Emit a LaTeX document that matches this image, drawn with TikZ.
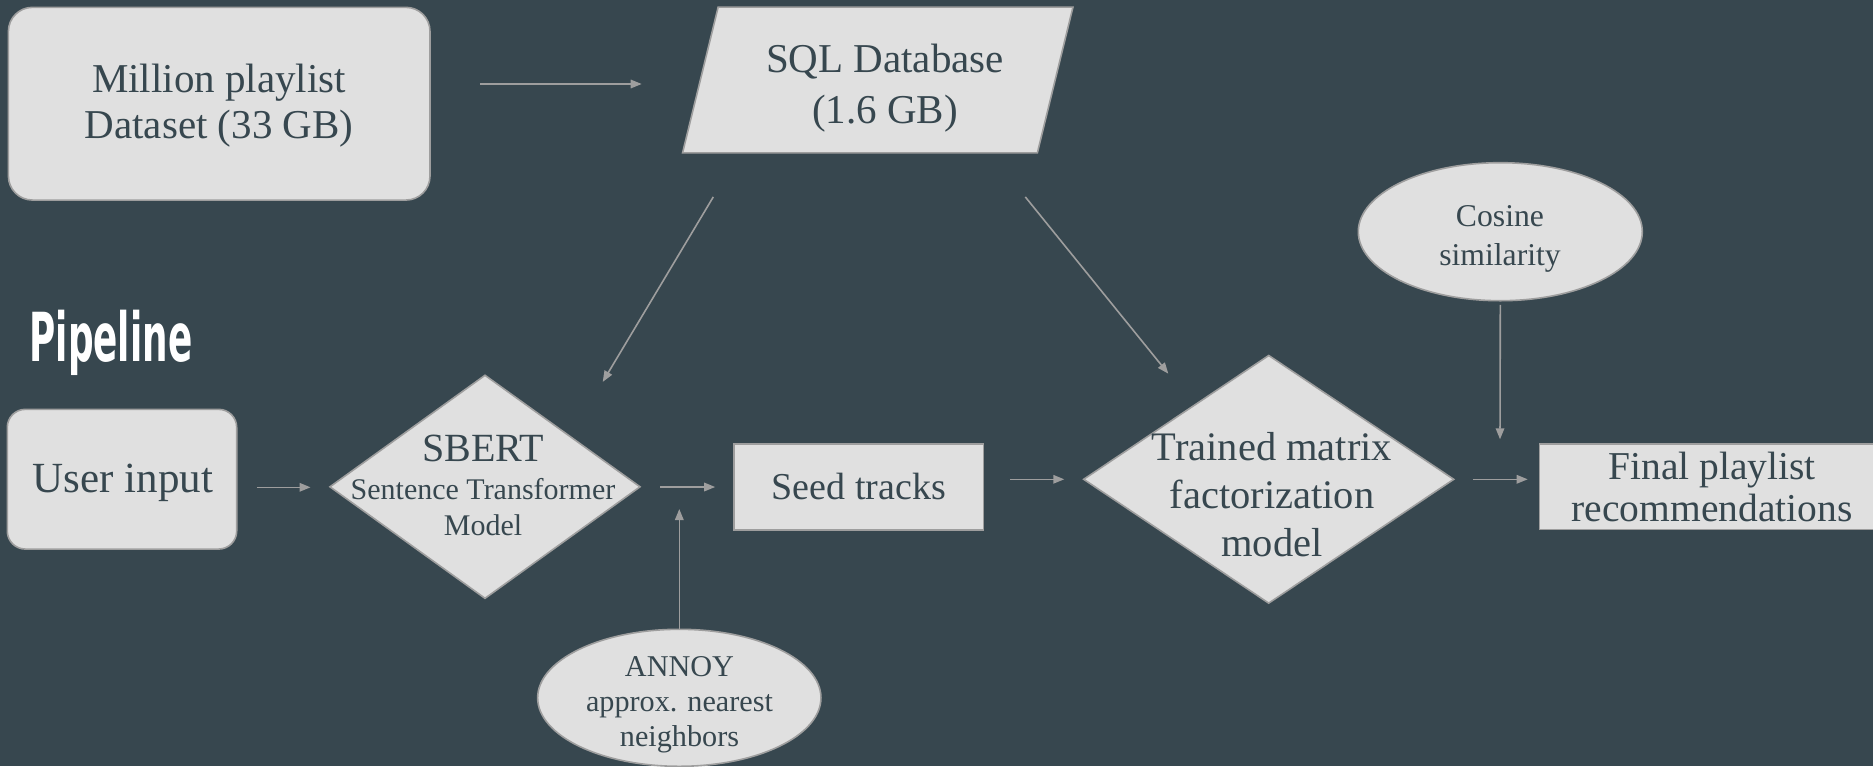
\documentclass[tikz,border=0pt]{standalone}
\usepackage{fontspec}
\setmainfont{Liberation Serif}
\newfontfamily\headfont{DejaVu Sans}
\usepackage{graphicx}
\usetikzlibrary{shapes.geometric,arrows.meta,calc}

\definecolor{bgslate}{HTML}{37474F}
\definecolor{boxfill}{HTML}{E0E0E0}
\definecolor{edgegray}{HTML}{9E9E9E}
\definecolor{inkslate}{HTML}{37474F}

% centred multi-line text whose reference point is the first baseline
\newcommand{\stack}[1]{\begin{tabular}[t]{@{}c@{}}#1\end{tabular}}
\newcommand{\fs}[2]{\fontsize{#1}{#2}\selectfont}

\begin{document}
\begin{tikzpicture}[x=1pt,y=-1pt,
  shapeline/.style={draw=edgegray, fill=boxfill, line width=1.6pt},
  blockbox/.style={shapeline, rectangle, inner sep=0pt},
  roundbox/.style={blockbox},
  decisionbox/.style={shapeline, diamond, inner sep=0pt},
  ovalbox/.style={shapeline, ellipse, inner sep=0pt},
  txt/.style={text=inkslate, inner sep=0pt, anchor=base},
  conn/.style={draw=edgegray, line width=1.6pt, -{Triangle[length=11pt,width=8.5pt]}}
]
\useasboundingbox (0,0) rectangle (1873,766);
\fill[bgslate] (0,0) rectangle (1873,766);
\clip (0,0) rectangle (1873,766);

% ---- shapes ----
\node[roundbox, rounded corners=24pt, minimum width=421.6pt, minimum height=192.7pt] (mpd) at (219.2,103.7) {};
\node[draw=none, minimum width=354.4pt, minimum height=145.4pt, inner sep=0pt] (sql) at (877.75,80) {};
\draw[shapeline] ([xshift=17.8pt]sql.north west) -- ([xshift=17.8pt]sql.north east)
  -- ([xshift=-17.8pt]sql.south east) -- ([xshift=-17.8pt]sql.south west) -- cycle;
\node[roundbox, rounded corners=18pt, minimum width=229.4pt, minimum height=139.7pt] (user) at (122,479.2) {};
\node[decisionbox, minimum width=310.7pt, minimum height=223.7pt] (sbert) at (485,486.8) {};
\node[blockbox, minimum width=249.8pt, minimum height=86pt] (seed) at (858.6,487) {};
\node[decisionbox, minimum width=370.7pt, minimum height=248.3pt] (mf) at (1268.7,479.3) {};
\node[ovalbox, minimum width=284pt, minimum height=138pt] (cos) at (1500.3,231.7) {};
\node[ovalbox, minimum width=283.3pt, minimum height=137pt] (annoy) at (679.3,697.8) {};
\node[blockbox, minimum width=345pt, minimum height=85.3pt] (final) at (1712,486.7) {};

% ---- texts ----
\node[anchor=base west, inner sep=0pt, text=white, font={\headfont\bfseries\fs{67.6}{70}}] (title) at (29.3,361) {\scalebox{0.53}[1]{Pipeline}};
\node[txt, font={\fs{41}{45.6}}] (mpd-text) at (219,92.7) {\stack{Million playlist\\Dataset (33 GB)}};
\node[txt, font={\fs{41}{50.7}}] (sql-text) at (885,72.7) {\stack{SQL Database\\(1.6 GB)}};
\node[txt, font={\fs{43}{46}}] (user-text) at (123,492.7) {User input};
\node[txt, font={\fs{40}{44}}] (sbert-title) at (483.3,461) {SBERT};
\node[txt, font={\fs{30}{35.7}}] (sbert-text) at (483,499.3) {\stack{Sentence Transformer\\Model}};
\node[txt, font={\fs{38}{42}}] (seed-text) at (858.8,499.3) {Seed tracks};
\node[txt, font={\fs{40.5}{47.7}}] (mf-text) at (1272,460.7) {\stack{Trained matrix\\factorization\\model}};
\node[txt, font={\fs{31.7}{39}}] (cos-text) at (1500,226) {\stack{Cosine\\similarity}};
\node[txt, font={\fs{30.2}{35}}] (annoy-text) at (679.5,676.7) {\stack{ANNOY\\approx. nearest\\neighbors}};
\node[txt, font={\fs{39.5}{42.4}}] (final-text) at (1712,479.3) {\stack{Final playlist\\recommendations}};

% ---- free ends of the side inputs ----
\coordinate (annoyjoin) at (679.3,509);
\coordinate (cosjoin) at (1500,439.3);

% ---- connectors ----
\draw[conn] ([shift={(49,-19.7)}]mpd.east) -- ([shift={(-58.65,4)}]sql.west);
\draw[conn] ([shift={(-164.45,44)}]sql.south) -- ([shift={(117.7,7.75)}]sbert.north);
\draw[conn] ([shift={(147.55,44)}]sql.south) -- ([shift={(-100.4,19.3)}]mf.north);
\draw[conn] ([shift={(19.3,8.1)}]user.east) -- ([shift={(-18.3,0.5)}]sbert.west);
\draw[conn] ([shift={(19.3,0.2)}]sbert.east) -- ([shift={(-17.7,0)}]seed.west);
\draw[conn] (annoy.north) -- (annoyjoin);
\draw[conn] ([shift={(25.5,-7.7)}]seed.east) -- ([shift={(-18.3,0)}]mf.west);
\draw[conn] ([shift={(18,0)}]mf.east) -- ([shift={(-11,-7.4)}]final.west);
\draw[conn] ([shift={(0,3.3)}]cos.south) -- (cosjoin);
\end{tikzpicture}
\end{document}
